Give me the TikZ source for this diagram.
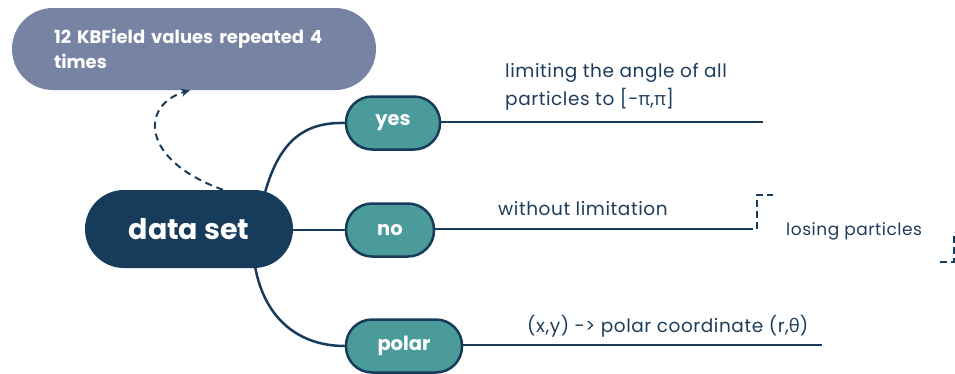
\documentclass[tikz,border=0pt]{standalone}
\usepackage{fontspec}
\setmainfont{Poppins}
\newfontfamily\lblfont[LetterSpace=3]{Poppins}
\newfontfamily\gk{Open Sans}
\usetikzlibrary{calc,arrows.meta}
\definecolor{navy}{HTML}{173B5A}
\definecolor{teal2}{HTML}{4B9B9B}
\definecolor{slate}{HTML}{7783A3}
\definecolor{txt}{HTML}{1E3D5C}
\tikzset{
  root/.style={fill=navy, text=white, minimum width=208pt, minimum height=78pt, rounded corners=39pt, inner sep=0pt, font=\fontsize{28.5}{30}\selectfont\bfseries},
  branch/.style={fill=teal2, draw=navy, line width=2.5pt, text=white, minimum height=53pt, rounded corners=26pt, inner sep=0pt, font=\fontsize{19.5}{22}\selectfont\bfseries},
  note/.style={fill=slate, text=white, minimum width=364pt, minimum height=82pt, rounded corners=41pt, inner sep=0pt, align=left, text width=280pt, font=\fontsize{18}{25}\selectfont\bfseries},
  conn/.style={draw=navy, line width=2.5pt},
  hline/.style={draw=navy, line width=2pt},
  lbl/.style={text=txt, inner sep=0pt, font=\lblfont\fontsize{18.5}{28}\selectfont},
  bracket/.style={draw=navy, line width=2pt, dash pattern=on 7pt off 4pt},
}
\begin{document}
\begin{tikzpicture}[x=1pt,y=-1pt]
\useasboundingbox (0,0) rectangle (955,373);
\node[note] (note) at (194,49) {12 KBField values repeated 4\\times};
\node[root] (ds) at (189,229) {data set};
\node[branch, minimum width=94pt] (yes) at (393,123) {yes};
\node[branch, minimum width=88pt] (no) at (390,230) {no};
\node[branch, minimum width=116pt] (polar) at (404,346) {polar};

\draw[conn] ([xshift=-28pt,yshift=-2pt]ds.north east) .. controls (280,140) and (305,122) .. (yes.west);
\draw[conn] (ds.east |- no.west) -- (no.west);
\draw[conn] ([xshift=-38pt,yshift=1pt]ds.south east) .. controls (265,320) and (300,346) .. (polar.west);

\draw[navy, line width=2pt, dashed, dash pattern=on 7pt off 5pt, -{Stealth[length=9pt,width=8pt]}]
  ([xshift=34pt]ds.north) .. controls (140,160) and (140,105) .. ([xshift=-4pt]note.south);

\coordinate (yend) at (763,122);
\coordinate (nend) at (753,229);
\coordinate (pend) at (822,345);
\draw[hline] (yes.east |- yend) -- (yend);
\draw[hline] (no.east |- nend) -- (nend);
\draw[hline] (polar.east |- pend) -- (pend);

\node[lbl, anchor=north west, align=left] (t1) at (505,63) {limiting the angle of all\\particles to [-{\gk π},{\gk π}]};
\node[lbl, anchor=base west] (t2) at (498,215) {without limitation};
\node[lbl, anchor=base west] (t3) at (527,332) {(x,y) -> polar coordinate (r,{\gk θ})};

\coordinate (btop) at (773,195);
\coordinate (bbot) at (940,262);
\coordinate (bright) at (954,232);
\draw[bracket] ([xshift=4pt]nend) |- (btop);
\draw[bracket] (bbot) -| (bright);
\node[lbl, anchor=base west, font=\lblfont\fontsize{17}{20}\selectfont] (t4) at (786,235) {losing particles};
\end{tikzpicture}
\end{document}
